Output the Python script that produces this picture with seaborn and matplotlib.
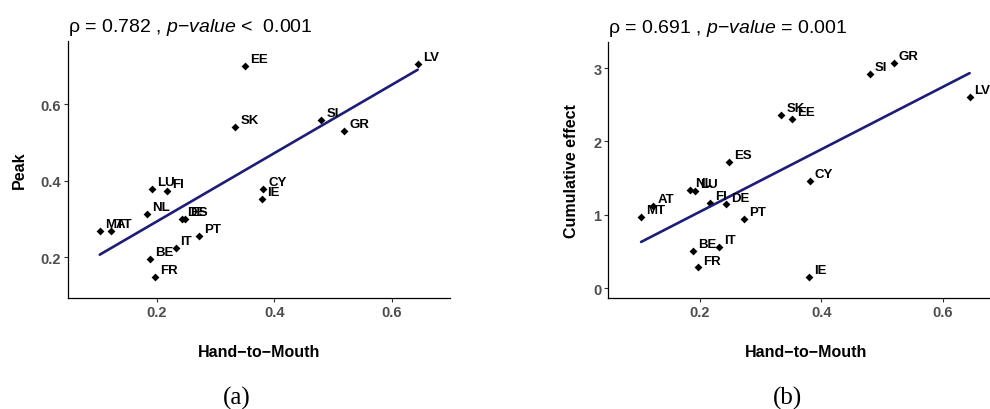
import numpy as np
import pandas as pd
import matplotlib
matplotlib.use("Agg")
import matplotlib.pyplot as plt
import seaborn as sns

countries = ["MT", "AT", "NL", "LU", "BE", "FR", "FI", "IT", "DE",
             "ES", "PT", "SK", "EE", "IE", "CY", "SI", "GR", "LV"]
hand_to_mouth = [0.103, 0.122, 0.184, 0.192, 0.188, 0.197, 0.217, 0.232, 0.243,
                 0.248, 0.272, 0.334, 0.351, 0.379, 0.381, 0.480, 0.519, 0.644]
peak = [0.267, 0.267, 0.312, 0.377, 0.196, 0.149, 0.373, 0.224, 0.299,
        0.299, 0.255, 0.539, 0.700, 0.351, 0.377, 0.559, 0.529, 0.706]
cumulative = [0.97, 1.12, 1.34, 1.32, 0.50, 0.28, 1.16, 0.56, 1.14,
              1.72, 0.94, 2.36, 2.31, 0.15, 1.46, 2.92, 3.07, 2.60]

titles = ["ρ = 0.782 , $\\mathit{p}$−$\\mathit{value}$ <  0.001",
          "ρ = 0.691 , $\\mathit{p}$−$\\mathit{value}$ = 0.001"]
y_labels = ["Peak", "Cumulative effect"]
x_label = "Hand−to−Mouth"
captions = ["(a)", "(b)"]

df = pd.DataFrame({"country": countries, "htm": hand_to_mouth,
                   "peak": peak, "cum": cumulative})

sns.set_theme(style="ticks")
plt.rcParams["font.family"] = ["Liberation Sans", "DejaVu Sans"]
plt.rcParams["text.color"] = "black"
plt.rcParams["axes.labelcolor"] = "black"
plt.rcParams["mathtext.fontset"] = "custom"
plt.rcParams["mathtext.rm"] = "Liberation Sans"
plt.rcParams["mathtext.it"] = "Liberation Sans:italic"
plt.rcParams["mathtext.bf"] = "Liberation Sans:bold"

W, H = 990, 410
fig = plt.figure(figsize=(9.9, 4.1), dpi=100)

def frac_box(x0, x1, ytop, ybot):
    return [x0 / W, 1 - ybot / H, (x1 - x0) / W, (ybot - ytop) / H]

ax_a = fig.add_axes(frac_box(68, 450, 42, 298.7))
ax_b = fig.add_axes(frac_box(608.3, 1003, 43, 298.7))

line_color = "#1d1d78"
panels = [(ax_a, "peak", (0.0936, 0.765), [0.2, 0.4, 0.6], ["0.2", "0.4", "0.6"]),
          (ax_b, "cum", (-0.132, 3.356), [0, 1, 2, 3], ["0", "1", "2", "3"])]

for i, (ax, col, ylim, yt, ytl) in enumerate(panels):
    sns.regplot(data=df, x="htm", y=col, ax=ax, ci=None, marker="D",
                scatter_kws={"s": 16, "color": "black", "alpha": 1,
                             "linewidths": 0},
                line_kws={"color": line_color, "lw": 1.9})
    for c, xv, yv in zip(df["country"], df["htm"], df[col]):
        ax.annotate(c, (xv, yv), xytext=(3.6, 5.0), textcoords="offset points",
                    ha="left", va="center", fontsize=9.5, fontweight="bold",
                    color="black")
    ax.set_xlim(0.049, 0.699)
    ax.set_ylim(*ylim)
    ax.set_xticks([0.2, 0.4, 0.6])
    ax.set_xticklabels(["0.2", "0.4", "0.6"])
    ax.set_yticks(yt)
    ax.set_yticklabels(ytl)
    ax.tick_params(axis="both", length=3, width=0.8, color="#333333",
                   labelsize=10.5, labelcolor="#4d4d4d", pad=2)
    for lab in ax.get_xticklabels() + ax.get_yticklabels():
        lab.set_fontweight("bold")
    for s in ["top", "right"]:
        ax.spines[s].set_visible(False)
    for s in ["left", "bottom"]:
        ax.spines[s].set_color("black")
        ax.spines[s].set_linewidth(0.9)
    ax.set_xlabel(x_label, fontsize=11.5, fontweight="bold", labelpad=18,
                  color="black")
    ax.set_ylabel(y_labels[i], fontsize=11.5, fontweight="bold", labelpad=10,
                  color="black")
    ax.set_title(titles[i], loc="left", fontsize=14, pad=7, color="black")

fig.text(237 / W, 1 - 398 / H, captions[0], ha="center", va="center",
         fontsize=18, family="Liberation Serif")
fig.text(787 / W, 1 - 398 / H, captions[1], ha="center", va="center",
         fontsize=18, family="Liberation Serif")

fig.savefig("out.png", dpi=100)
